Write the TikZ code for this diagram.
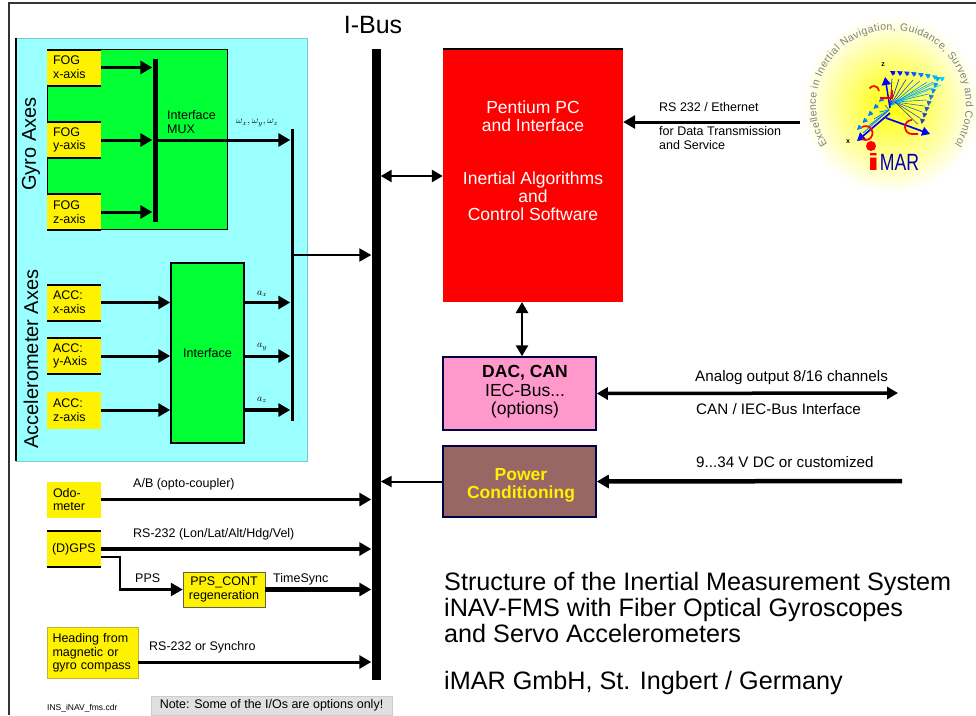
\documentclass[tikz,border=0pt]{standalone}
\usepackage{fontspec}
\setmainfont{Liberation Sans}
\usetikzlibrary{arrows.meta,positioning,decorations.text}
\definecolor{panelcyan}{RGB}{153,255,255}
\definecolor{boxgreen}{RGB}{0,255,51}
\definecolor{boxpink}{RGB}{255,153,204}
\definecolor{boxbrown}{RGB}{153,102,102}
\definecolor{boxnavy}{RGB}{0,0,70}
\newcommand{\fs}[2][1.1]{\fontsize{#2}{#1\dimexpr#2pt\relax}\selectfont}
\begin{document}
\begin{tikzpicture}[x=1pt, y=-1pt, font=\fs{12.5},
    yellowbox/.style={fill=yellow, inner sep=0pt, align=left, text width=42pt, font=\fs{12.5}},
    ruledbox/.style={yellowbox, path picture={
        \draw[line width=3pt] (path picture bounding box.north west) -- (path picture bounding box.north east);
        \draw[line width=3pt] (path picture bounding box.south west) -- (path picture bounding box.south east);}},
    greenbox/.style={draw, line width=1.5pt, fill=boxgreen, inner sep=0pt, align=center},
    bar/.style={fill=black, inner sep=0pt, minimum width=#1},
    arr/.style={-{Triangle[length=12pt,width=13pt]}, line width=3pt},
    thickarr/.style={arr, line width=4.5pt},
    dblarr/.style={{Triangle[length=11pt,width=12pt]}-{Triangle[length=11pt,width=12pt]}, line width=2.5pt},
    lbl/.style={anchor=west, inner sep=0pt, align=left},
    logoarr/.style={-{Triangle[length=5pt,width=5pt]}, line width=.8pt},
    curl/.style={red, line width=1.7pt}]
  \useasboundingbox (0,0) rectangle (976,715);
  % frame
  \draw[line width=1.5pt, black!80] (976,3) -- (9,3) -- (9,715);
  % inertial sensor panel
  \node[fill=panelcyan, draw=panelcyan!80!black, minimum width=291pt, minimum height=423pt, inner sep=0pt] (panel) at (161.5,249.5) {};
  \draw[line width=1.5pt] (panel.north west) -- (panel.south west);
  \node[rotate=90, font=\fs{20}, inner sep=0pt] (gyrolbl) at (31,144) {Gyro Axes};
  \node[rotate=90, font=\fs{20}, inner sep=0pt] (acclbl) at (31,359) {Accelerometer Axes};
  % gyro part
  \node[greenbox, line width=1pt, minimum width=180pt, minimum height=180pt] (gyrobox) at (137,139) {};
  \node[ruledbox, minimum width=54pt, minimum height=37pt] (fogx) at (74,67.5) {FOG\\x-axis};
  \node[ruledbox, minimum width=54pt, minimum height=37pt] (fogy) at (74,140) {FOG\\y-axis};
  \node[ruledbox, minimum width=54pt, minimum height=37pt] (fogz) at (74,212) {FOG\\z-axis};
  \node[bar=5pt, minimum height=163pt] (muxbar) at (155,140) {};
  \node[lbl] (muxlbl) at (167,122) {Interface\\MUX};
  \node[bar=3pt, minimum height=292pt] (sumbar) at (292,275) {};
  \draw[arr] (fogx.east) -- (fogx.east -| muxbar.west);
  \draw[arr] (fogy.east) -- (fogy.east -| muxbar.west);
  \draw[arr] (fogz.east) -- (fogz.east -| muxbar.west);
  \draw[arr] (fogy.east -| muxbar.east) -- (fogy.east -| sumbar.west);
  \node[lbl, font=\fs{10}] (wlbl) at (236,123) {$\omega_x, \omega_y, \omega_z$};
  % accelerometer part
  \node[greenbox, minimum width=73pt, minimum height=180pt] (ifbox) at (207.5,353) {Interface};
  \node[ruledbox, minimum width=54pt, minimum height=37pt] (accx) at (74,302.5) {ACC:\\x-axis};
  \node[ruledbox, minimum width=54pt, minimum height=37pt] (accy) at (74,356) {ACC:\\y-Axis};
  \node[yellowbox, minimum width=54pt, minimum height=37pt] (accz) at (74,410) {ACC:\\z-axis};
  \draw[arr] (accx.east) -- (accx.east -| ifbox.west);
  \draw[arr] (accy.east) -- (accy.east -| ifbox.west);
  \draw[arr] (accz.east) -- (accz.east -| ifbox.west);
  \draw[arr] (accx.east -| ifbox.east) -- (accx.east -| sumbar.west);
  \draw[arr] (accy.east -| ifbox.east) -- (accy.east -| sumbar.west);
  \draw[thickarr] (accz.east -| ifbox.east) -- (accz.east -| sumbar.west);
  \node[lbl, font=\fs{10}] (axlbl) at (257,294) {$a_x$};
  \node[lbl, font=\fs{10}] (aylbl) at (257,347) {$a_y$};
  \node[lbl, font=\fs{10}] (azlbl) at (257,400) {$a_z$};
  % bus
  \node[bar=9pt, minimum height=631pt] (bus) at (376,364.5) {};
  \node[font=\fs{25}, inner sep=0pt] (buslbl) at (373,25) {I-Bus};
  \coordinate (sumout) at (sumbar.east |- 0,255);
  \draw[arr, line width=2pt] (sumout) -- (sumout -| bus.west);
  % computer and interfaces
  \node[fill=red, minimum width=180pt, minimum height=253pt, inner sep=0pt] (pc) at (533,175.5) {};
  \draw[line width=1.5pt] (pc.north west) -- (pc.north east);
  \node[text=white, align=center, font=\fontsize{17.5}{18}\selectfont, inner sep=0pt] (pclbl) at (533,160.5)
    {Pentium PC\\and Interface\\[35pt]Inertial Algorithms\\and\\Control Software};
  \node[draw=boxnavy, line width=1.5pt, fill=boxpink, minimum width=153pt, minimum height=73pt, inner sep=0pt] (dac) at (519.5,393.5) {};
  \node[align=center, font=\fontsize{17.5}{18.5}\selectfont, inner sep=0pt] (daclbl) at (525,392) {\textbf{DAC, CAN}\\IEC-Bus...\\(options)};
  \node[draw=boxnavy, line width=1.5pt, fill=boxbrown, minimum width=153pt, minimum height=71pt, inner sep=0pt] (power) at (519.5,481.5) {};
  \node[text=yellow, align=center, font=\fontsize{17.5}{18}\selectfont\bfseries, inner sep=0pt] (powerlbl) at (521,485) {Power\\Conditioning};
  \coordinate (pcbus) at (bus.east |- 0,176);
  \draw[dblarr] (pcbus) -- (pcbus -| pc.west);
  \coordinate (pcdac) at (522,302);
  \draw[dblarr] (pcdac) -- (pcdac |- dac.north);
  \coordinate (aout) at (898,393);
  \draw[dblarr, line width=3.5pt] (dac.east) -- (aout);
  \coordinate (vin) at (902,481);
  \draw[arr, line width=4.5pt] (vin) -- (power.east);
  \draw[arr, line width=2pt, -{Triangle[length=11pt,width=11pt]}] (power.west) -- (power.west -| bus.east);
  \node[lbl, font=\fs{15.2}] (aoutlbl) at (695,378) {Analog output 8/16 channels};
  \node[lbl, font=\fs{15.2}] (canlbl) at (696,409) {CAN / IEC-Bus Interface};
  \node[lbl, font=\fs{15.2}] (vinlbl) at (696,462) {9...34 V DC or customized};
  \coordinate (rsin) at (800,122);
  \draw[arr] (rsin) -- (rsin -| pc.east);
  \node[lbl, font=\fs{12.5}] (rslbl) at (659,107) {RS 232 / Ethernet};
  \node[lbl, font=\fs{12.5}] (datalbl) at (659,138) {for Data Transmission\\and Service};
  % outside sensors
  \node[yellowbox, minimum width=54pt, minimum height=36pt] (odo) at (74,499.5) {Odo-\\meter};
  \node[ruledbox, text width=44pt, minimum width=54pt, minimum height=37pt] (gps) at (74,549) {(D)GPS};
  \node[yellowbox, draw=black!70!yellow, text width=72pt, align=center, minimum width=82pt, minimum height=35pt] (ppsbox) at (224,589.5) {PPS\_CONT\\regeneration};
  \node[yellowbox, draw=yellow!70!black, text width=80pt, minimum width=91pt, minimum height=51pt] (head) at (92.5,653) {Heading from\\magnetic or\\gyro compass};
  \draw[arr] (odo.east) -- (odo.east -| bus.west);
  \draw[thickarr] (gps.east) -- (gps.east -| bus.west);
  \draw[thickarr] (ppsbox.east) -- (ppsbox.east -| bus.west);
  \coordinate (headout) at (head.east |- 0,662);
  \draw[arr] (headout) -- (headout -| bus.west);
  \coordinate (gpsout) at (gps.east |- 0,557);
  \draw[arr, line width=2.5pt] (gpsout) -- (120,557) -- (120,589.5) -- (ppsbox.west);
  \node[lbl] (odolbl) at (133,484) {A/B (opto-coupler)};
  \node[lbl] (gpslbl) at (133,534) {RS-232 (Lon/Lat/Alt/Hdg/Vel)};
  \node[lbl] (ppslbl) at (135,578) {PPS};
  \node[lbl] (synclbl) at (273,579) {TimeSync};
  \node[lbl] (headlbl) at (149,647) {RS-232 or Synchro};
  % footer
  \node[lbl, font=\fs{8.5}] (filelbl) at (47,708) {INS\_iNAV\_fms.cdr};
  \node[fill=black!12, draw=black!20, minimum width=241pt, minimum height=19pt, inner sep=0pt, font=\fs{12.5}] (note) at (271.5,705.5) {Note: Some of the I/Os are options only!};
  \node[lbl, font=\fontsize{25.2}{26}\selectfont, align=left] (title) at (444,607)
    {Structure of the Inertial Measurement System\\iNAV-FMS with Fiber Optical Gyroscopes\\and Servo Accelerometers};
  \node[lbl, font=\fs{25.2}] (company) at (444,683) {iMAR GmbH, St. Ingbert / Germany};
  % logo
  \shade[inner color=yellow, outer color=white] (891,104) circle[radius=89];
  \path[decorate, decoration={text along path, text align={fit to path},
      text={|\fs{10.5}\color{black!50}|Excellence in Inertial Navigation, Guidance, Survey and Control}}]
    (891,105) ++(148:75) arc[start angle=148, end angle=392, radius=75];
  \foreach \i in {0,...,7} {
    \pgfmathsetmacro{\pct}{100-12*\i}
    \pgfmathsetmacro{\tx}{890+7*\i}
    \pgfmathsetmacro{\ty}{71+0.12*\i*\i}
    \draw[logoarr, blue!\pct!cyan] (\tx+5,\ty+3) -- (\tx,\ty);
    \draw[blue!\pct!cyan, line width=.6pt] (890,106) -- (\tx+2,\ty+8);
    \pgfmathsetmacro{\rx}{938-2.2*\i}
    \pgfmathsetmacro{\ry}{82+6*\i}
    \draw[logoarr, cyan!\pct!blue] (\rx,\ry-5) -- (\rx-1,\ry);
    \draw[cyan!\pct!blue, line width=.6pt] (895,102) -- (\rx-5,\ry);
  }
  \foreach \i in {0,...,4} {
    \pgfmathsetmacro{\lx}{879-5.5*\i}
    \pgfmathsetmacro{\ly}{100+7*\i}
    \draw[logoarr, blue!50!cyan] (\lx+4,\ly-2) -- (\lx,\ly+2);
    \draw[blue!50!cyan, line width=.8pt] (889,110) -- (\lx+6,\ly+5);
  }
  \draw[blue, line width=1.5pt, -{Triangle[length=8pt,width=9pt]}] (890,108) -- (885,77);
  \draw[blue, line width=1.7pt, -{Triangle[length=8pt,width=9pt]}] (890,113) -- (857,141);
  \draw[blue, line width=1.7pt, -{Triangle[length=8pt,width=9pt]}] (886,118) -- (930,134);
  \draw[curl] (879,91) arc[start angle=180, end angle=30, radius=-5] (880,98) -- (892,98) -- (892,90);
  \draw[curl] (862,127) arc[start angle=240, end angle=480, radius=7];
  \draw[curl] (912,120) arc[start angle=270, end angle=90, radius=7] -- (918,134);
  \node[font=\fs{7}\bfseries, inner sep=0pt] (zlbl) at (883,65) {z};
  \node[font=\fs{7}\bfseries, inner sep=0pt] (xlbl) at (848,142) {x};
  \node[circle, fill=red, minimum size=10pt, inner sep=0pt] (idot) at (871,146) {};
  \node[font=\fs{23.5}, inner sep=0pt, text=blue!70!black] (imar) at (893,162) {\textcolor{red}{\scalebox{2}[1]{\textbf{i}}}\scalebox{.75}[1]{MAR}};
\end{tikzpicture}
\end{document}
